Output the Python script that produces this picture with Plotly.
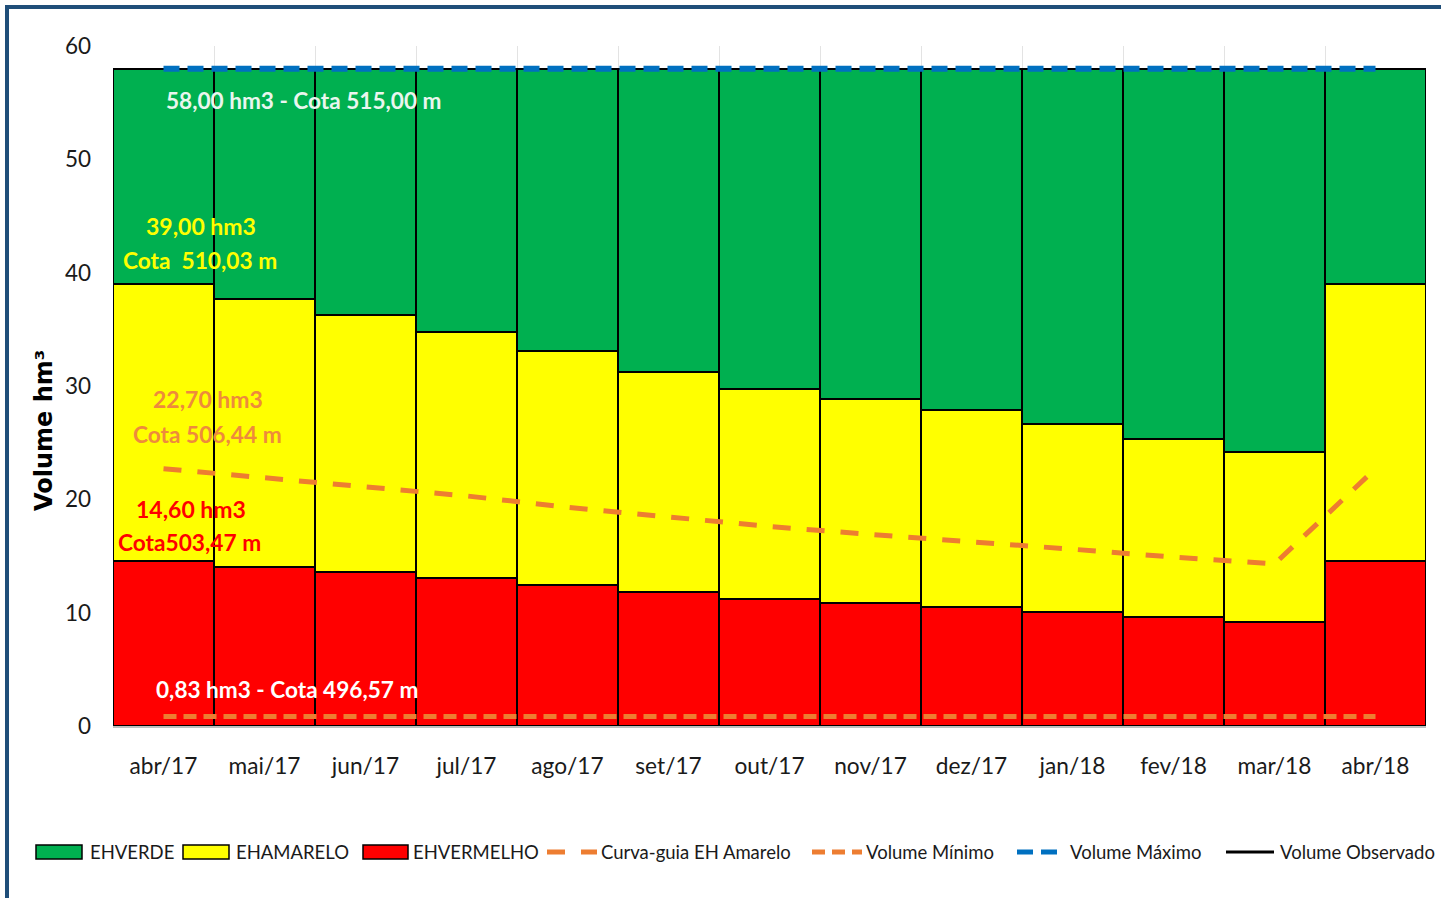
import plotly.graph_objects as go

categories = ["abr/17", "mai/17", "jun/17", "jul/17", "ago/17", "set/17", "out/17",
              "nov/17", "dez/17", "jan/18", "fev/18", "mar/18", "abr/18"]
eh_vermelho = [14.6, 14.05, 13.6, 13.1, 12.45, 11.85, 11.2, 10.85, 10.5, 10.1, 9.6, 9.2, 14.6]
eh_amarelo = [24.4, 23.65, 22.7, 21.7, 20.65, 19.4, 18.55, 18.0, 17.4, 16.55, 15.7, 14.95, 24.4]
eh_verde = [19.0, 20.3, 21.7, 23.2, 24.9, 26.75, 28.25, 29.15, 30.1, 31.35, 32.7, 33.85, 19.0]
curva_guia = [22.7, 21.9, 21.1, 20.3, 19.3, 18.4, 17.6, 16.9, 16.3, 15.6, 14.9, 14.3, 22.7]
volume_minimo = [0.83] * 13
volume_maximo = [58.0] * 13
y_ticks = [0, 10, 20, 30, 40, 50, 60]

FONT = "Lato"
W, H = 1441, 898
ML, MR, MT, MB = 113, 15, 46, 172
PW, PH = W - ML - MR, H - MT - MB


def px(x):
    return (x - ML) / PW


def py(y):
    return (H - MB - y) / PH


C_GREEN, C_YELLOW, C_RED = "#00B050", "#FFFF00", "#FF0000"
C_ORANGE, C_BLUE = "#ED7D31", "#0070C0"
DASH_CURVA, DASH_MIN, DASH_MAX = "18px,16px", "13px,7px", "16px,8px"

fig = go.Figure()
bar_line = dict(color="#000000", width=2)
fig.add_trace(go.Bar(x=categories, y=eh_vermelho, name="EHVERMELHO",
                     marker=dict(color=C_RED, line=bar_line)))
fig.add_trace(go.Bar(x=categories, y=eh_amarelo, name="EHAMARELO",
                     marker=dict(color=C_YELLOW, line=bar_line)))
fig.add_trace(go.Bar(x=categories, y=eh_verde, name="EHVERDE",
                     marker=dict(color=C_GREEN, line=bar_line)))
fig.add_trace(go.Scatter(x=categories, y=curva_guia, name="Curva-guia EH Amarelo", mode="lines",
                         line=dict(color=C_ORANGE, width=5, dash=DASH_CURVA)))
fig.add_trace(go.Scatter(x=categories, y=volume_minimo, name="Volume Mínimo", mode="lines",
                         line=dict(color=C_ORANGE, width=5, dash=DASH_MIN)))
fig.add_trace(go.Scatter(x=categories, y=volume_maximo, name="Volume Máximo", mode="lines",
                         line=dict(color=C_BLUE, width=6, dash=DASH_MAX)))

annotations = [
    dict(x=1.386, y=55.15, text="<b>58,00 hm3 - Cota 515,00 m</b>", color="#EAF6EE", size=22.6),
    dict(x=0.376, y=44.1, text="<b>39,00 hm3</b>", color="#FFFF00", size=23),
    dict(x=0.366, y=41.1, text="<b>Cota  510,03 m</b>", color="#FFFF00", size=22.7),
    dict(x=0.436, y=28.85, text="<b>22,70 hm3</b>", color="#EE8A3C", size=23),
    dict(x=0.436, y=25.76, text="<b>Cota 506,44 m</b>", color="#EE8A3C", size=22.7),
    dict(x=0.27, y=19.15, text="<b>14,60 hm3</b>", color="#FF0000", size=23),
    dict(x=0.26, y=16.15, text="<b>Cota503,47 m</b>", color="#FF0000", size=22.7),
    dict(x=1.227, y=3.18, text="<b>0,83 hm3 - Cota 496,57 m</b>", color="#FFFFFF", size=22.6),
]
for a in annotations:
    fig.add_annotation(x=a["x"], y=a["y"], xref="x", yref="y", text=a["text"], showarrow=False,
                       font=dict(family=FONT, size=a["size"], color=a["color"]),
                       xanchor="center", yanchor="middle")

# y-axis title (placed like the spreadsheet original, below the vertical centre)
fig.add_annotation(x=px(44), y=py(431), xref="paper", yref="paper", text="<b>Volume hm³</b>",
                   textangle=-90, showarrow=False, xanchor="center", yanchor="middle",
                   font=dict(family="DejaVu Sans", size=24, color="#000000"))

# custom legend (matching the spreadsheet-style legend)
LEG_Y = 852
legend_items = [
    ("rect", C_GREEN, None, 36, 82, 88, "EHVERDE"),
    ("rect", C_YELLOW, None, 183, 229, 234, "EHAMARELO"),
    ("rect", C_RED, None, 363, 408, 411, "EHVERMELHO"),
    ("line", C_ORANGE, DASH_CURVA, 547, 597, 599, "Curva-guia EH Amarelo"),
    ("line", C_ORANGE, DASH_MIN, 812, 862, 864, "Volume Mínimo"),
    ("line", C_BLUE, DASH_MAX, 1017, 1062, 1068, "Volume Máximo"),
    ("line", "#000000", "solid", 1226, 1274, 1278, "Volume Observado"),
]
for kind, col, dash, x0, x1, xt, label in legend_items:
    if kind == "rect":
        fig.add_shape(type="rect", xref="paper", yref="paper", x0=px(x0), x1=px(x1),
                      y0=py(LEG_Y + 7), y1=py(LEG_Y - 7), fillcolor=col,
                      line=dict(color="#000000", width=1.5))
    else:
        fig.add_shape(type="line", xref="paper", yref="paper", x0=px(x0), x1=px(x1),
                      y0=py(LEG_Y), y1=py(LEG_Y),
                      line=dict(color=col, width=5 if col != "#000000" else 3, dash=dash))
    fig.add_annotation(x=px(xt), y=py(LEG_Y), xref="paper", yref="paper", text=label,
                       showarrow=False, xanchor="left", yanchor="middle",
                       font=dict(family=FONT, size=18.5, color="#1a1a1a"))

# outer frame
fig.add_shape(type="rect", xref="paper", yref="paper", x0=px(7), x1=px(W + 20),
              y0=py(H + 20), y1=py(7), line=dict(color="#1F4E79", width=4), layer="above")

fig.update_layout(
    width=W, height=H,
    margin=dict(l=ML, r=MR, t=MT, b=MB, autoexpand=False),
    paper_bgcolor="white", plot_bgcolor="white",
    barmode="stack", bargap=0,
    font=dict(family=FONT, size=21, color="#000000"),
    showlegend=False,
    xaxis=dict(type="category", tickson="boundaries", showgrid=True, gridcolor="#E3E3E3",
               ticks="", showline=True, linecolor="#BFBFBF", linewidth=1.5,
               tickfont=dict(family=FONT, size=22.7, color="#1a1a1a"), ticklabelstandoff=19,
               range=[-0.5, 12.5]),
    yaxis=dict(range=[0, 60], tickvals=y_ticks, showgrid=True, gridcolor="#E3E3E3",
               zeroline=False, ticks="", tickfont=dict(family=FONT, size=22.5, color="#1a1a1a"),
               ticklabelstandoff=21),
)

fig.write_html("out.html", config={"displayModeBar": False},
               post_script="document.body.style.margin='0';")
